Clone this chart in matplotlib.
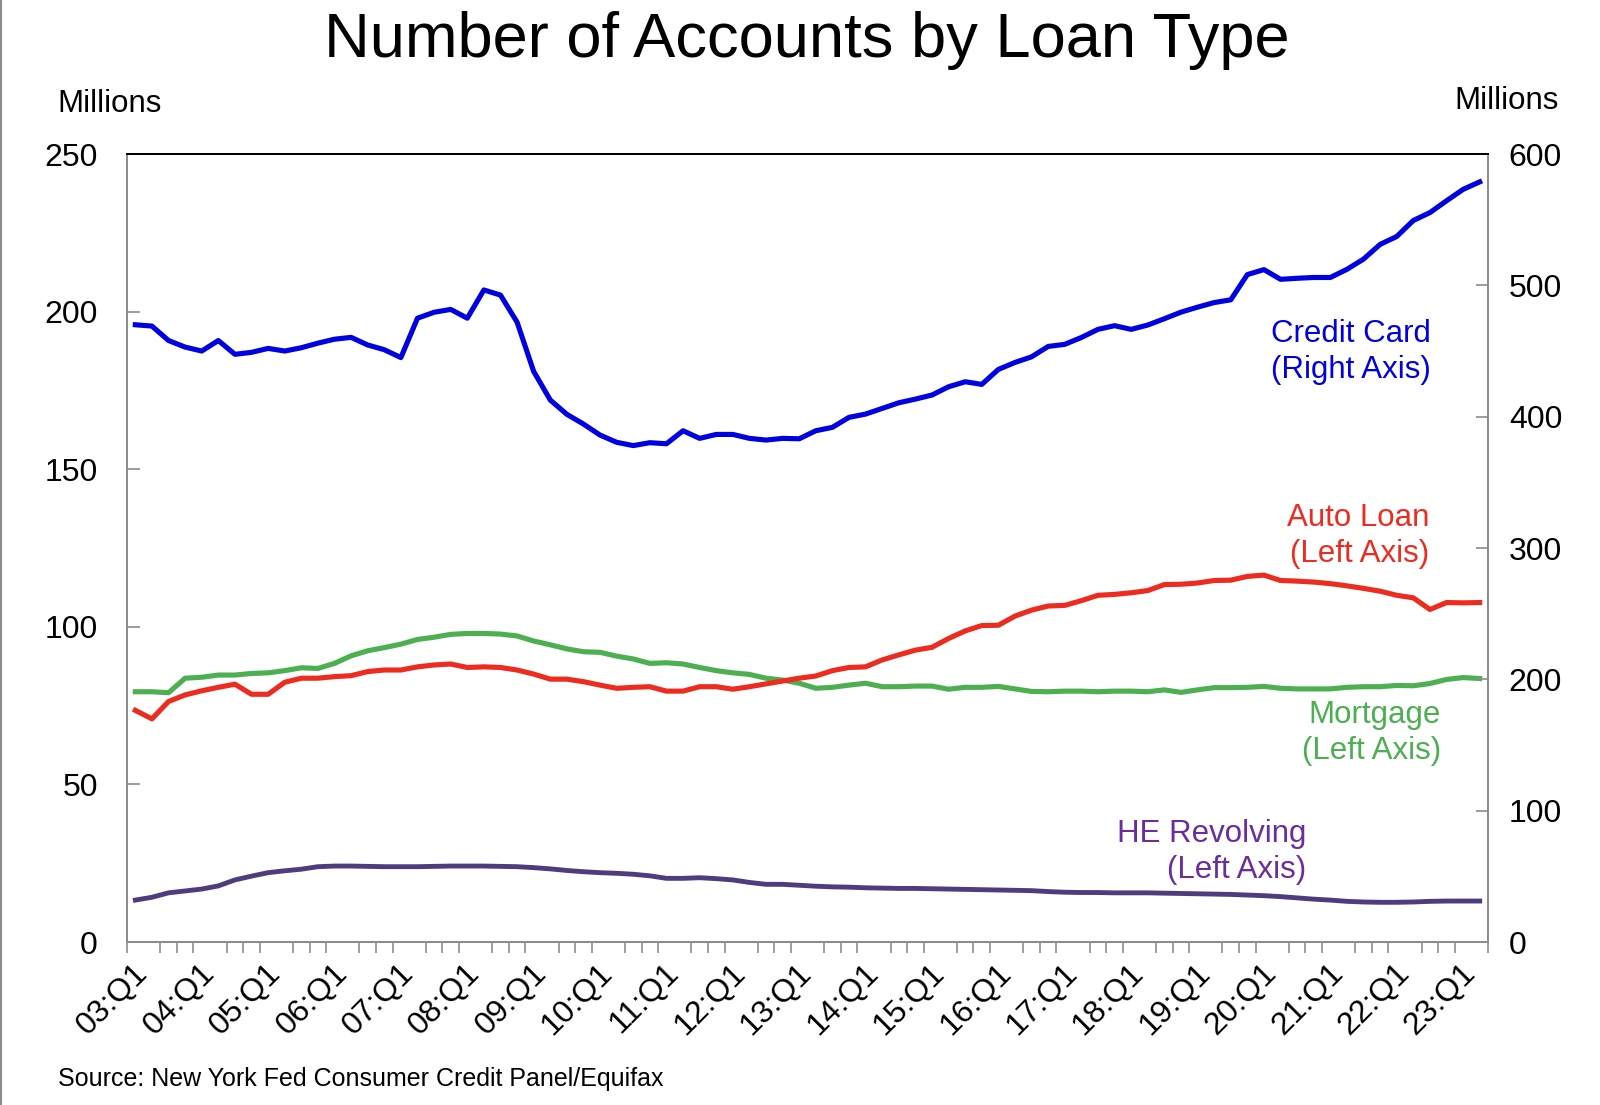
import matplotlib
matplotlib.use("Agg")
import matplotlib.pyplot as plt
from matplotlib.lines import Line2D
from matplotlib.ticker import FixedLocator

plt.rcParams['font.family'] = ['Liberation Sans', 'DejaVu Sans']

# quarters 03:Q1 .. 23:Q2
quarters = [f"{y:02d}:Q{q}" for y in range(3, 24) for q in range(1, 5)][:82]

# millions of accounts
credit_card = [470, 469, 458, 453, 450, 458, 447.5, 449, 452, 450,
               452.5, 456, 459, 460.4, 454.6, 451, 445, 475, 479.5, 481.7,
               475, 496.5, 492.6, 472, 434.5, 412.7, 401.8, 394.4, 386, 380.5,
               378, 380.2, 379.4, 389.3, 383.5, 386.5, 386.5, 383.5, 382.2, 383.5,
               383.2, 389.3, 391.9, 399.5, 402, 406.3, 410.6, 413.4, 416.5, 422.8,
               426.6, 424.6, 436, 441.3, 445.6, 453.5, 455.1, 460.3, 466.5, 469.3,
               466.5, 469.8, 474.6, 479.6, 483.4, 486.9, 489, 508.2, 512, 504.6,
               505.4, 506, 506, 512.2, 520, 531.2, 537.2, 549.4, 555.4, 564.4,
               573.1, 578.8]

auto_loan = [73.5, 70.8, 76.3, 78.4, 79.7, 80.8, 81.8, 78.6, 78.6, 82.4,
             83.7, 83.7, 84.2, 84.5, 85.8, 86.3, 86.3, 87.3, 87.9, 88.2,
             87.1, 87.3, 87.1, 86.3, 85.0, 83.4, 83.4, 82.6, 81.5, 80.5,
             80.8, 81.0, 79.6, 79.6, 81.0, 81.0, 80.2, 81.0, 81.9, 82.8,
             83.7, 84.4, 86.1, 87.1, 87.3, 89.5, 91.1, 92.6, 93.5, 96.3,
             98.7, 100.4, 100.5, 103.4, 105.3, 106.6, 106.8, 108.3, 110.0, 110.3,
             110.8, 111.5, 113.4, 113.5, 113.9, 114.7, 114.8, 116.0, 116.4, 114.7,
             114.5, 114.2, 113.7, 113.0, 112.2, 111.3, 110.0, 109.2, 105.5, 107.7,
             107.6, 107.7]

mortgage = [79.4, 79.4, 79.1, 83.7, 84.0, 84.7, 84.7, 85.2, 85.4, 86.1,
            87.0, 86.8, 88.4, 90.8, 92.4, 93.4, 94.5, 96.0, 96.7, 97.6,
            97.9, 97.9, 97.7, 97.1, 95.5, 94.3, 93.0, 92.1, 91.9, 90.7,
            89.8, 88.4, 88.6, 88.2, 87.1, 86.1, 85.4, 84.9, 83.7, 83.1,
            82.1, 80.5, 80.8, 81.5, 82.1, 81.0, 81.0, 81.2, 81.2, 80.2,
            80.8, 80.8, 81.1, 80.3, 79.5, 79.4, 79.6, 79.6, 79.4, 79.6,
            79.6, 79.4, 80.0, 79.2, 80.0, 80.7, 80.7, 80.8, 81.1, 80.5,
            80.3, 80.3, 80.3, 80.8, 81.0, 81.0, 81.4, 81.3, 82.0, 83.3,
            83.9, 83.6]

he_revolving = [13.3, 14.2, 15.6, 16.2, 16.8, 17.8, 19.7, 20.9, 22.0, 22.6,
                23.1, 23.9, 24.1, 24.1, 24.0, 23.9, 23.9, 23.9, 24.0, 24.1,
                24.1, 24.1, 24.0, 23.9, 23.6, 23.2, 22.7, 22.3, 22.0, 21.8,
                21.5, 21.0, 20.2, 20.2, 20.4, 20.1, 19.7, 18.9, 18.3, 18.3,
                18.0, 17.7, 17.5, 17.4, 17.2, 17.1, 17.0, 17.0, 16.9, 16.8,
                16.7, 16.6, 16.5, 16.4, 16.3, 16.0, 15.8, 15.7, 15.7, 15.6,
                15.6, 15.6, 15.5, 15.4, 15.3, 15.2, 15.1, 14.9, 14.7, 14.4,
                14.0, 13.6, 13.3, 12.9, 12.7, 12.6, 12.6, 12.7, 12.9, 13.0,
                13.0, 13.0]

x = list(range(len(quarters)))
grey = '#8c8c8c'

fig = plt.figure(figsize=(16, 11.05), dpi=100)
ax = fig.add_axes([0.0794, 0.1475, 0.8506, 0.7131])
ax2 = ax.twinx()

ax.plot(x, auto_loan, color='#ee2b1f', lw=3.7, solid_joinstyle='round', zorder=3)
ax.plot(x, mortgage, color='#4caf50', lw=3.7, solid_joinstyle='round', zorder=2)
ax.plot(x, he_revolving, color='#4f3c7e', lw=3.5, solid_joinstyle='round', zorder=2)
ax2.plot(x, credit_card, color='#0000e0', lw=3.7, solid_joinstyle='round')

ax.set_xlim(-0.5, len(quarters) - 0.5)
ax.set_ylim(0, 250)
ax2.set_ylim(0, 600)
ax.set_yticks([0, 50, 100, 150, 200, 250])
ax2.set_yticks([0, 100, 200, 300, 400, 500, 600])

# labels sit a little right of the category centre, as in the original
ax.set_xticks([i + 0.5 for i in x[::4]])
ax.set_xticklabels(quarters[::4], rotation=45, ha='right', va='center',
                   rotation_mode='anchor', fontsize=23)
ax.xaxis.set_minor_locator(FixedLocator([i - 0.5 for i in range(len(quarters) + 1)]))
ax.tick_params(axis='x', which='major', length=0, pad=19)
ax.tick_params(axis='x', which='minor', length=8, width=1.2, color=grey, direction='out')
ax.tick_params(axis='y', direction='in', length=9, width=1.2, color=grey,
               labelsize=23, pad=21)
ax2.tick_params(axis='y', direction='in', length=9, width=1.2, color=grey,
                labelsize=23, pad=15)

for a in (ax, ax2):
    a.spines['left'].set_color(grey)
    a.spines['right'].set_color(grey)
    a.spines['bottom'].set_color(grey)
    a.spines['top'].set_color('black')
    for s in a.spines.values():
        s.set_linewidth(1.4)

lab = dict(fontsize=22.5, ha='right', va='center', multialignment='right',
           linespacing=1.3)
fig.text(1431 / 1600, 1 - 352 / 1105, 'Credit Card\n(Right Axis)', color='#0000e0', **lab)
fig.text(1429 / 1600, 1 - 536 / 1105, 'Auto Loan\n(Left Axis)', color='#ee2b1f', **lab)
fig.text(1441 / 1600, 1 - 733 / 1105, 'Mortgage\n(Left Axis)', color='#4caf50', **lab)
fig.text(1306 / 1600, 1 - 852 / 1105, 'HE Revolving\n(Left Axis)', color='#6a2c9e', **lab)

fig.text(0.504, 0.963, 'Number of Accounts by Loan Type', fontsize=45.5,
         ha='center', va='center')
fig.text(57 / 1600, 1 - 104 / 1105, 'Millions', fontsize=22.5, ha='left', va='center')
fig.text(1559 / 1600, 1 - 101 / 1105, 'Millions', fontsize=22.5, ha='right', va='center')
fig.text(58 / 1600, 1 - 1079 / 1105, 'Source: New York Fed Consumer Credit Panel/Equifax',
         fontsize=18, ha='left', va='center')

fig.add_artist(Line2D([0.0008, 0.0008], [0, 1], color=grey, lw=1.5))

fig.savefig('out.png', dpi=100)
